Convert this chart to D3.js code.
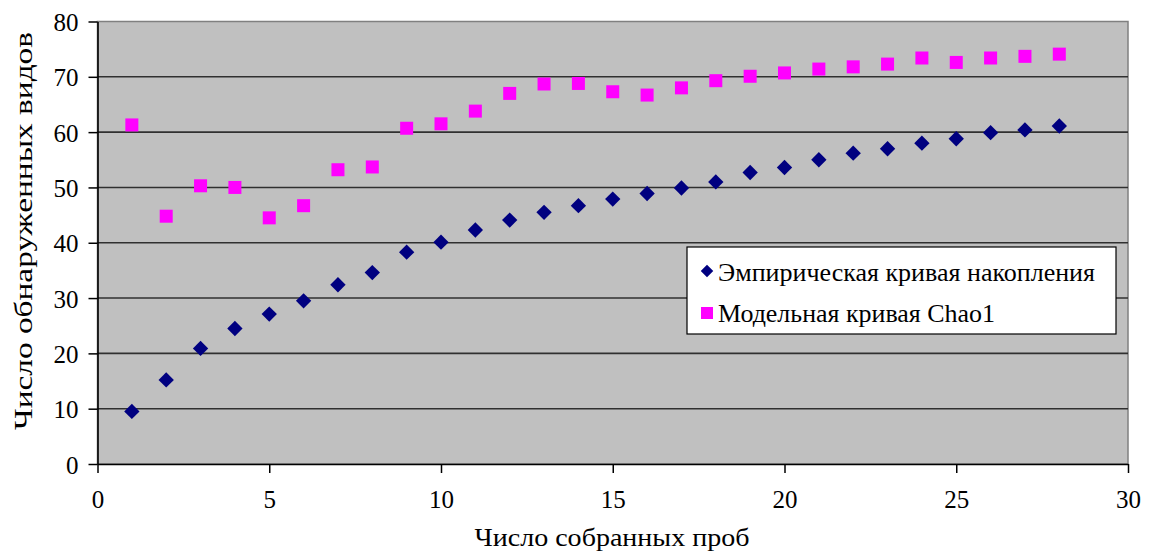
<!DOCTYPE html>
<html>
<head>
<meta charset="utf-8">
<script src="https://cdn.jsdelivr.net/npm/d3@7"></script>
<style>
  html, body { margin: 0; padding: 0; background: #ffffff; }
  svg text { font-family: "Liberation Serif", "Tinos", "Times New Roman", Times, "DejaVu Serif", "Noto Serif", serif; }
</style>
</head>
<body>
<svg id="chart" width="1160" height="554"></svg>
<script>
// Number of samples collected
const samples = [1, 2, 3, 4, 5, 6, 7, 8, 9, 10, 11, 12, 13, 14, 15, 16, 17, 18, 19, 20, 21, 22, 23, 24, 25, 26, 27, 28];
// Empirical species accumulation curve
const empirical = [9.5, 15.2, 20.9, 24.5, 27.1, 29.5, 32.4, 34.6, 38.3, 40.1, 42.3, 44.1, 45.5, 46.7, 47.9, 48.9, 49.9, 51.0, 52.7, 53.6, 55.0, 56.2, 57.0, 58.0, 58.8, 59.9, 60.4, 61.1];
// Chao1 model estimate
const chao1 = [61.3, 44.8, 50.3, 50.0, 44.5, 46.7, 53.2, 53.7, 60.7, 61.5, 63.8, 67.0, 68.7, 68.8, 67.3, 66.7, 68.0, 69.3, 70.1, 70.7, 71.4, 71.8, 72.3, 73.4, 72.6, 73.4, 73.7, 74.1];
const seriesNames = ["Эмпирическая кривая накопления", "Модельная кривая Chao1"];
const xTicks = [0, 5, 10, 15, 20, 25, 30];
const yTicks = [0, 10, 20, 30, 40, 50, 60, 70, 80];
const xTitle = "Число собранных проб";
const yTitle = "Число обнаруженных видов";

const FONT = "'Liberation Serif', Tinos, 'Times New Roman', Times, 'DejaVu Serif', 'Noto Serif', serif";

const svg = d3.select("#chart");
const plot = { left: 97.5, top: 21.5, right: 1128, bottom: 464 };

const x = d3.scaleLinear().domain([0, 30]).range([plot.left, plot.right]);
const y = d3.scaleLinear().domain([0, 80]).range([plot.bottom, plot.top]);

// plot background
svg.append("rect")
  .attr("x", plot.left).attr("y", plot.top)
  .attr("width", plot.right - plot.left).attr("height", plot.bottom - plot.top)
  .attr("fill", "#c0c0c0")
  .attr("stroke", "#808080").attr("stroke-width", 1.5);

// horizontal gridlines
svg.append("g").selectAll("line")
  .data(yTicks.filter(d => d > 0 && d < 80))
  .join("line")
  .attr("x1", plot.left).attr("x2", plot.right)
  .attr("y1", d => y(d)).attr("y2", d => y(d))
  .attr("stroke", "#303030").attr("stroke-width", 1.6);

// axes
const xAxis = svg.append("g")
  .attr("transform", `translate(0,${plot.bottom})`)
  .call(d3.axisBottom(x).tickValues(xTicks).tickSize(9).tickPadding(17).tickSizeOuter(0));
const yAxis = svg.append("g")
  .attr("transform", `translate(${plot.left},0)`)
  .call(d3.axisLeft(y).tickValues(yTicks).tickSize(9).tickPadding(10).tickSizeOuter(0));

[xAxis, yAxis].forEach(g => {
  g.attr("font-family", FONT).attr("font-size", 25);
  g.select(".domain").attr("stroke", "#000").attr("stroke-width", 1.6);
  g.selectAll(".tick line").attr("stroke", "#000").attr("stroke-width", 1.5);
  g.selectAll(".tick text")
    .attr("fill", "#000")
    .style("font-family", FONT)
    .style("font-size", "25px");
});
yAxis.selectAll(".tick text").attr("dy", "0.36em");

// axis titles
svg.append("text")
  .attr("x", 612).attr("y", 546)
  .attr("text-anchor", "middle")
  .attr("textLength", 275).attr("lengthAdjust", "spacingAndGlyphs")
  .style("font-family", FONT)
  .style("font-size", "26px")
  .text(xTitle);
svg.append("text")
  .attr("transform", "translate(32,231) rotate(-90)")
  .attr("text-anchor", "middle")
  .attr("textLength", 398).attr("lengthAdjust", "spacingAndGlyphs")
  .style("font-family", FONT)
  .style("font-size", "26px")
  .text(yTitle);

const diamond = d3.symbol().type(d3.symbolDiamond2).size(150);

// empirical accumulation points
svg.append("g").selectAll("path")
  .data(samples.map((s, i) => [s, empirical[i]]))
  .join("path")
  .attr("transform", d => `translate(${x(d[0])},${y(d[1])})`)
  .attr("d", diamond)
  .attr("fill", "#000080");

// Chao1 points
const sq = 13;
svg.append("g").selectAll("rect")
  .data(samples.map((s, i) => [s, chao1[i]]))
  .join("rect")
  .attr("x", d => x(d[0]) - sq / 2)
  .attr("y", d => y(d[1]) - sq / 2)
  .attr("width", sq).attr("height", sq)
  .attr("fill", "#ff00ff");

// legend
const legend = svg.append("g");
legend.append("rect")
  .attr("x", 687).attr("y", 247)
  .attr("width", 429).attr("height", 87)
  .attr("fill", "#ffffff")
  .attr("stroke", "#000").attr("stroke-width", 1.2);
legend.append("path")
  .attr("transform", "translate(707,271)")
  .attr("d", d3.symbol().type(d3.symbolDiamond2).size(100))
  .attr("fill", "#000080");
legend.append("rect")
  .attr("x", 701).attr("y", 307)
  .attr("width", 12).attr("height", 12)
  .attr("fill", "#ff00ff");
const legendWidths = [377, 277];
legend.selectAll("text")
  .data(seriesNames)
  .join("text")
  .attr("x", 718)
  .attr("y", (d, i) => 281 + i * 41)
  .attr("textLength", (d, i) => legendWidths[i]).attr("lengthAdjust", "spacingAndGlyphs")
  .style("font-family", FONT)
  .style("font-size", "25px")
  .text(d => d);
</script>
</body>
</html>
